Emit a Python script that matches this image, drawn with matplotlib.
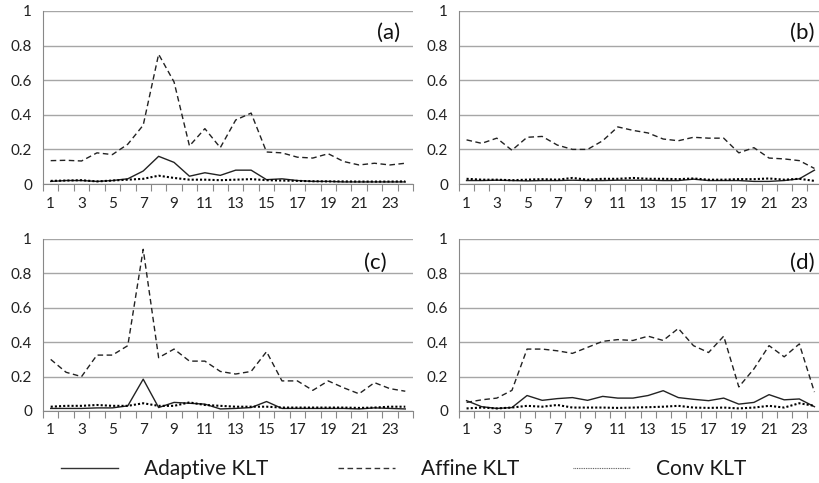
import matplotlib
matplotlib.use("Agg")
import matplotlib.pyplot as plt
import numpy as np
from matplotlib.ticker import FixedLocator
from matplotlib.lines import Line2D

plt.rcParams['font.family'] = ['Lato', 'DejaVu Sans']

frames = list(range(1, 25))
tick_labels = [str(i) if i % 2 == 1 else "" for i in frames]
series_names = ["Adaptive KLT", "Affine KLT", "Conv KLT"]
panel_labels = ["(a)", "(b)", "(c)", "(d)"]

adaptive_a = [0.015, 0.02, 0.02, 0.015, 0.02, 0.03, 0.075, 0.16, 0.125, 0.045, 0.065, 0.05,
              0.08, 0.08, 0.025, 0.03, 0.02, 0.015, 0.015, 0.012, 0.012, 0.012, 0.012, 0.012]
affine_a = [0.135, 0.137, 0.133, 0.18, 0.17, 0.23, 0.34, 0.75, 0.59, 0.22, 0.32, 0.21,
            0.37, 0.41, 0.185, 0.18, 0.155, 0.15, 0.175, 0.13, 0.11, 0.12, 0.11, 0.12]
conv_a = [0.018, 0.02, 0.022, 0.015, 0.02, 0.025, 0.03, 0.048, 0.035, 0.025, 0.025, 0.022,
          0.025, 0.028, 0.022, 0.02, 0.018, 0.016, 0.015, 0.015, 0.014, 0.014, 0.014, 0.015]

adaptive_b = [0.02, 0.02, 0.022, 0.02, 0.018, 0.02, 0.02, 0.022, 0.02, 0.02, 0.022, 0.022,
              0.022, 0.02, 0.02, 0.028, 0.02, 0.02, 0.02, 0.015, 0.015, 0.02, 0.03, 0.08]
affine_b = [0.255, 0.235, 0.265, 0.195, 0.27, 0.275, 0.225, 0.2, 0.2, 0.25, 0.33, 0.31,
            0.295, 0.26, 0.25, 0.27, 0.265, 0.265, 0.18, 0.21, 0.15, 0.145, 0.135, 0.09]
conv_b = [0.03, 0.025, 0.025, 0.022, 0.025, 0.028, 0.025, 0.035, 0.025, 0.03, 0.03, 0.035,
          0.03, 0.03, 0.028, 0.032, 0.025, 0.025, 0.028, 0.028, 0.032, 0.025, 0.03, 0.018]

adaptive_c = [0.015, 0.015, 0.015, 0.018, 0.018, 0.03, 0.185, 0.02, 0.05, 0.045, 0.04, 0.012,
              0.015, 0.02, 0.055, 0.015, 0.015, 0.015, 0.015, 0.015, 0.012, 0.018, 0.015, 0.012]
affine_c = [0.30, 0.225, 0.20, 0.325, 0.325, 0.38, 0.94, 0.31, 0.36, 0.29, 0.29, 0.23,
            0.215, 0.23, 0.345, 0.175, 0.175, 0.12, 0.175, 0.135, 0.10, 0.165, 0.13, 0.115]
conv_c = [0.025, 0.03, 0.03, 0.035, 0.03, 0.03, 0.045, 0.03, 0.03, 0.05, 0.035, 0.03,
          0.025, 0.025, 0.025, 0.02, 0.02, 0.02, 0.02, 0.02, 0.018, 0.02, 0.025, 0.025]

adaptive_d = [0.06, 0.025, 0.015, 0.02, 0.09, 0.062, 0.072, 0.078, 0.062, 0.085, 0.075, 0.075,
              0.09, 0.118, 0.078, 0.068, 0.06, 0.075, 0.04, 0.05, 0.095, 0.065, 0.07, 0.025]
affine_d = [0.05, 0.065, 0.075, 0.12, 0.36, 0.36, 0.35, 0.335, 0.37, 0.405, 0.415, 0.41,
            0.435, 0.41, 0.48, 0.38, 0.34, 0.435, 0.14, 0.245, 0.38, 0.315, 0.39, 0.11]
conv_d = [0.015, 0.02, 0.015, 0.02, 0.03, 0.025, 0.035, 0.02, 0.02, 0.02, 0.018, 0.02,
          0.022, 0.025, 0.03, 0.02, 0.018, 0.02, 0.015, 0.02, 0.03, 0.02, 0.045, 0.03]

panels = [
    (adaptive_a, affine_a, conv_a),
    (adaptive_b, affine_b, conv_b),
    (adaptive_c, affine_c, conv_c),
    (adaptive_d, affine_d, conv_d),
]

W, H = 819, 483
fig = plt.figure(figsize=(W / 100, H / 100), dpi=100)

# axes rectangles in pixels: left, top, right, bottom
rects = [
    (43, 11, 413, 184),
    (459, 11, 822, 184),
    (43, 239, 413, 411),
    (459, 239, 822, 411),
]
label_pos = [(0.965, 0.873), (0.98, 0.873), (0.93, 0.86), (0.98, 0.86)]

styles = [
    dict(color="#222222", lw=1.0, ls="-"),
    dict(color="#222222", lw=1.0, ls=(0, (4, 2.5))),
    dict(color="#000000", lw=1.5, ls=(0, (1, 1)), dash_capstyle="butt"),
]

for k, ((ad, af, cv), (l, t, r, b)) in enumerate(zip(panels, rects)):
    ax = fig.add_axes([l / W, 1 - b / H, (r - l) / W, (b - t) / H])
    for vals, st, name in zip((ad, af, cv), styles, series_names):
        ax.plot(frames, vals, label=name, **st)
    ax.set_xlim(0.5, 24.5)
    ax.set_ylim(0, 1)
    ax.set_yticks([0, 0.2, 0.4, 0.6, 0.8, 1.0])
    ax.set_yticklabels(["0", "0.2", "0.4", "0.6", "0.8", "1"])
    ax.set_xticks(frames)
    ax.set_xticklabels(tick_labels)
    ax.xaxis.set_minor_locator(FixedLocator(np.arange(0.5, 25, 1)))
    ax.tick_params(axis="x", which="major", length=0, labelsize=11, pad=9, colors="#222222")
    ax.tick_params(axis="x", which="minor", length=5, width=0.8, color="#888888", direction="out")
    ax.tick_params(axis="y", length=0, labelsize=11, pad=8, colors="#222222")
    ax.grid(axis="y", color="#a6a6a6", lw=1.0)
    ax.set_axisbelow(True)
    for s in ("top", "right"):
        ax.spines[s].set_visible(False)
    for s in ("left", "bottom"):
        ax.spines[s].set_color("#888888")
        ax.spines[s].set_linewidth(0.8)
    lx, ly = label_pos[k]
    ax.text(lx, ly, panel_labels[k], transform=ax.transAxes,
            ha="right", va="center", fontsize=16, color="#111111")

legend_handles = [
    Line2D([], [], color="#333333", lw=1.0, ls="-"),
    Line2D([], [], color="#333333", lw=1.0, ls=(0, (4, 2.5))),
    Line2D([], [], color="#555555", lw=0.8, ls=(0, (0.8, 0.8))),
]
legend_x = [61, 338, 573]
fs = 15
fs_px = fs * 100 / 72
for hnd, name, x0 in zip(legend_handles, series_names, legend_x):
    leg = fig.legend([hnd], [name], loc="center left",
                     bbox_to_anchor=(x0 / W, 1 - 469 / H), frameon=False,
                     fontsize=fs, handlelength=57 / fs_px, handletextpad=26 / fs_px,
                     borderpad=0, borderaxespad=0)
    for tx in leg.get_texts():
        tx.set_color("#1a1a1a")

fig.savefig("out.png", dpi=100)
